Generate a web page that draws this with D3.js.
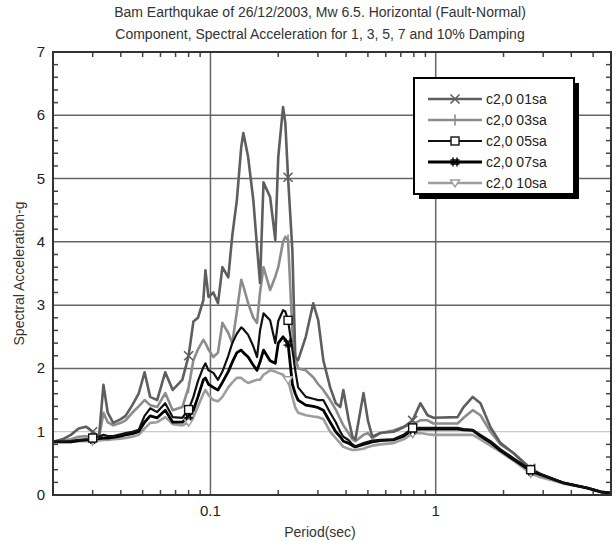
<!DOCTYPE html>
<html><head><meta charset="utf-8">
<script src="https://cdn.jsdelivr.net/npm/d3@7/dist/d3.min.js"></script>
<style>body{margin:0;background:#fff}svg{display:block}text{font-family:"Liberation Sans",Arial,sans-serif}</style>
</head><body><svg id="c" width="615" height="541"></svg>
<script>
const titleLines = ["Bam Earthqukae of 26/12/2003, Mw 6.5. Horizontal (Fault-Normal)",
                    "Component, Spectral Acceleration for 1, 3, 5, 7 and 10% Damping"];
const xTitle = "Period(sec)";
const yTitle = "Spectral Acceleration-g";
const seriesNames = ["c2,0 01sa","c2,0 03sa","c2,0 05sa","c2,0 07sa","c2,0 10sa"];
const xTickValues = [0.1, 1];
const xTickLabels = ["0.1", "1"];
const yTickValues = [0,1,2,3,4,5,6,7];
const periods = [0.020,0.022,0.024,0.026,0.028,0.030,0.032,0.0335,0.035,0.037,
  0.040,0.042,0.045,0.048,0.051,0.054,0.058,0.063,0.068,0.075,
  0.080,0.084,0.088,0.093,0.095,0.098,0.103,0.108,0.113,0.120,
  0.125,0.131,0.137,0.140,0.147,0.155,0.161,0.166,0.172,0.184,
  0.194,0.200,0.210,0.215,0.221,0.231,0.238,0.245,0.265,0.286,
  0.301,0.317,0.340,0.360,0.377,0.389,0.410,0.427,0.440,0.478,
  0.500,0.523,0.568,0.649,0.720,0.790,0.855,0.920,0.977,1.25,
  1.33,1.46,1.58,1.75,1.94,2.22,2.64,2.92,3.70,4.72,5.40,6.00];
const sa01 = [0.84,0.88,0.95,1.05,1.08,1.00,0.92,1.74,1.30,1.14,
  1.20,1.25,1.42,1.60,1.94,1.55,1.50,1.94,1.66,1.82,
  2.20,2.74,2.80,3.08,3.55,3.13,3.20,3.03,3.60,3.44,
  4.10,4.66,5.50,5.72,5.34,4.66,3.92,3.35,4.94,4.71,
  4.03,5.34,6.13,5.88,5.02,3.87,2.18,2.13,2.50,3.03,
  2.76,2.13,1.70,1.45,1.39,1.66,1.20,0.92,0.88,1.61,
  1.18,0.92,0.98,1.00,1.07,1.18,1.45,1.26,1.22,1.23,
  1.39,1.55,1.45,1.07,0.82,0.66,0.42,0.33,0.19,0.11,0.05,0.03];
const sa03 = [0.84,0.86,0.88,0.92,0.93,0.90,0.90,1.30,1.15,1.10,
  1.14,1.18,1.30,1.40,1.50,1.42,1.39,1.61,1.34,1.39,
  1.70,2.13,2.30,2.45,2.40,2.30,2.18,2.25,2.72,2.56,
  2.40,2.90,3.40,3.30,3.03,2.80,2.72,3.20,3.60,3.24,
  3.45,3.60,4.00,4.08,4.03,2.60,2.18,2.00,1.97,1.86,
  1.75,1.66,1.50,1.35,1.20,1.10,0.98,0.88,0.85,0.95,
  0.98,0.90,0.98,1.02,1.08,1.12,1.18,1.18,1.13,1.13,
  1.22,1.34,1.26,1.00,0.80,0.66,0.40,0.33,0.19,0.11,0.05,0.03];
const sa05 = [0.84,0.84,0.85,0.87,0.88,0.90,0.92,0.95,0.93,0.93,
  0.96,0.98,1.00,1.03,1.25,1.37,1.31,1.45,1.23,1.22,
  1.35,1.55,1.80,2.02,2.08,1.97,1.93,1.82,1.95,2.20,
  2.40,2.55,2.65,2.62,2.53,2.35,2.18,2.60,2.87,2.76,
  2.40,2.75,2.92,2.90,2.76,2.30,1.97,1.70,1.55,1.52,
  1.50,1.50,1.30,1.15,1.00,0.92,0.87,0.80,0.77,0.82,
  0.84,0.86,0.87,0.88,0.95,1.06,1.06,1.06,1.06,1.06,
  1.04,1.03,0.95,0.85,0.72,0.58,0.40,0.33,0.19,0.11,0.05,0.03];
const sa07 = [0.84,0.84,0.84,0.86,0.87,0.88,0.89,0.90,0.90,0.91,
  0.93,0.95,0.97,1.00,1.15,1.25,1.22,1.34,1.15,1.15,
  1.25,1.34,1.55,1.82,1.85,1.75,1.70,1.66,1.78,1.95,
  2.10,2.25,2.29,2.25,2.18,2.05,1.97,2.10,2.29,2.12,
  2.08,2.40,2.50,2.45,2.40,1.75,1.60,1.50,1.42,1.40,
  1.38,1.34,1.15,1.00,0.92,0.85,0.82,0.78,0.76,0.80,
  0.82,0.84,0.86,0.87,0.93,1.03,1.04,1.04,1.04,1.04,
  1.03,1.02,0.93,0.83,0.70,0.56,0.38,0.32,0.19,0.11,0.05,0.03];
const sa10 = [0.84,0.84,0.84,0.85,0.85,0.85,0.86,0.87,0.87,0.88,
  0.89,0.90,0.92,0.95,1.05,1.14,1.15,1.23,1.12,1.10,
  1.15,1.23,1.40,1.60,1.66,1.58,1.50,1.48,1.55,1.70,
  1.78,1.85,1.85,1.82,1.77,1.80,1.82,1.82,1.90,1.97,
  1.95,1.93,1.90,1.85,1.82,1.55,1.38,1.30,1.26,1.24,
  1.23,1.20,1.00,0.90,0.82,0.76,0.73,0.71,0.71,0.73,
  0.76,0.78,0.80,0.82,0.88,0.97,0.98,0.96,0.95,0.95,
  0.95,0.95,0.88,0.78,0.68,0.54,0.34,0.28,0.18,0.11,0.05,0.03];
const markerIdx = [5, 20, 44, 65, 76];

const seriesVals = [sa01, sa03, sa05, sa07, sa10];
const colors = ["#5e5e5e", "#8c8c8c", "#111", "#000", "#9d9d9d"];
const widths = [2.6, 2.6, 2.2, 2.8, 2.6];
const symbols = ["x", "plus", "square", "hash", "tri"];

const svg = d3.select("#c");
const L = 53, R = 611, T = 52, B = 495;
const x = d3.scaleLog().domain([0.02, 6]).range([L, R]);
const y = d3.scaleLinear().domain([0, 7]).range([B, T]);

// title
svg.selectAll(".title").data(titleLines).join("text")
  .attr("x", 320).attr("y", (d, i) => 17 + i * 22)
  .attr("text-anchor", "middle").attr("font-size", 14).attr("fill", "#333").text(d => d);

// grid
const g = svg.append("g");
g.selectAll(".hg").data([2,3,4,5,6]).join("line")
  .attr("x1", L).attr("x2", R).attr("y1", d => y(d)).attr("y2", d => y(d))
  .attr("stroke", "#666").attr("stroke-width", 1.5);
g.append("line").attr("x1", L).attr("x2", R).attr("y1", y(1)).attr("y2", y(1))
  .attr("stroke", "#bbb").attr("stroke-width", 1);
g.selectAll(".vg").data(xTickValues).join("line")
  .attr("x1", d => x(d)).attr("x2", d => x(d)).attr("y1", T).attr("y2", B)
  .attr("stroke", "#666").attr("stroke-width", 1.5);

// minor ticks
const xMinor = [0.03,0.04,0.05,0.06,0.07,0.08,0.09,0.2,0.3,0.4,0.5,0.6,0.7,0.8,0.9,2,3,4,5];
const yMinor = d3.range(0.2, 7, 0.2).filter(v => Math.abs(v - Math.round(v)) > 0.01);
const tk = svg.append("g").attr("stroke", "#444").attr("stroke-width", 1.5);
tk.selectAll(".xb").data(xMinor).join("line").attr("x1", d => x(d)).attr("x2", d => x(d)).attr("y1", B).attr("y2", B - 5);
tk.selectAll(".xt").data(xMinor).join("line").attr("x1", d => x(d)).attr("x2", d => x(d)).attr("y1", T).attr("y2", T + 5);
tk.selectAll(".yl").data(yMinor).join("line").attr("y1", d => y(d)).attr("y2", d => y(d)).attr("x1", L).attr("x2", L + 5);
tk.selectAll(".yr").data(yMinor).join("line").attr("y1", d => y(d)).attr("y2", d => y(d)).attr("x1", R).attr("x2", R - 5);

// tick labels
svg.selectAll(".yt").data(yTickValues).join("text")
  .attr("x", 45).attr("y", d => y(d) + 5).attr("text-anchor", "end")
  .attr("font-size", 15).attr("fill", "#222").text(d => d);
svg.selectAll(".xtl").data(xTickValues).join("text")
  .attr("x", d => x(d)).attr("y", 516).attr("text-anchor", "middle")
  .attr("font-size", 15).attr("fill", "#222").text((d, i) => xTickLabels[i]);

// axis titles
svg.append("text").attr("x", 320).attr("y", 537).attr("text-anchor", "middle")
  .attr("font-size", 14).attr("fill", "#333").text(xTitle);
svg.append("text").attr("transform", `translate(24,${(T + B) / 2}) rotate(-90)`)
  .attr("text-anchor", "middle").attr("font-size", 14).attr("fill", "#333").text(yTitle);

// lines
const line = d3.line().x(d => x(d[0])).y(d => y(d[1]));
const order = [4, 1, 0, 3, 2];
order.forEach(si => {
  const pts = periods.map((p, i) => [p, seriesVals[si][i]]);
  svg.append("path").datum(pts).attr("d", line).attr("fill", "none")
    .attr("stroke", colors[si]).attr("stroke-width", widths[si]).attr("stroke-linejoin", "round");
});

function drawMarker(sel, type, cx, cy, col) {
  const s = 4.5;
  if (type === "x") {
    sel.append("path").attr("d", `M${cx-s},${cy-s}L${cx+s},${cy+s}M${cx-s},${cy+s}L${cx+s},${cy-s}`).attr("stroke", col).attr("stroke-width", 1.6);
  } else if (type === "plus") {
    sel.append("path").attr("d", `M${cx},${cy-s-1}L${cx},${cy+s+1}`).attr("stroke", col).attr("stroke-width", 1.6);
  } else if (type === "square") {
    sel.append("rect").attr("x", cx - 4).attr("y", cy - 4).attr("width", 8).attr("height", 8).attr("fill", "#fff").attr("stroke", col).attr("stroke-width", 1.4);
  } else if (type === "hash") {
    sel.append("path").attr("d", `M${cx-2},${cy-s}L${cx-2},${cy+s}M${cx+2},${cy-s}L${cx+2},${cy+s}M${cx-s},${cy-2}L${cx+s},${cy-2}M${cx-s},${cy+2}L${cx+s},${cy+2}`).attr("stroke", col).attr("stroke-width", 1.4);
  } else {
    sel.append("path").attr("d", `M${cx-s},${cy-3}L${cx+s},${cy-3}L${cx},${cy+4}Z`).attr("fill", "#fff").attr("stroke", col).attr("stroke-width", 1.4);
  }
}
const mk = svg.append("g");
order.forEach(si => {
  markerIdx.forEach(i => drawMarker(mk, symbols[si], x(periods[i]), y(seriesVals[si][i]), colors[si]));
});

// frame
svg.append("rect").attr("x", L).attr("y", T).attr("width", R - L).attr("height", B - T)
  .attr("fill", "none").attr("stroke", "#333").attr("stroke-width", 2);

// legend
const lg = svg.append("g");
lg.append("rect").attr("x", 419).attr("y", 83).attr("width", 160).attr("height", 116).attr("fill", "#000");
lg.append("rect").attr("x", 414).attr("y", 78).attr("width", 160).attr("height", 116)
  .attr("fill", "#fff").attr("stroke", "#000").attr("stroke-width", 2);
seriesNames.forEach((nm, i) => {
  const yy = 99 + i * 21;
  lg.append("line").attr("x1", 428).attr("x2", 482).attr("y1", yy).attr("y2", yy)
    .attr("stroke", colors[i]).attr("stroke-width", widths[i]);
  drawMarker(lg, symbols[i], 455, yy, colors[i]);
  lg.append("text").attr("x", 486).attr("y", yy + 5).attr("font-size", 14).attr("fill", "#222").text(nm);
});
</script></body></html>
